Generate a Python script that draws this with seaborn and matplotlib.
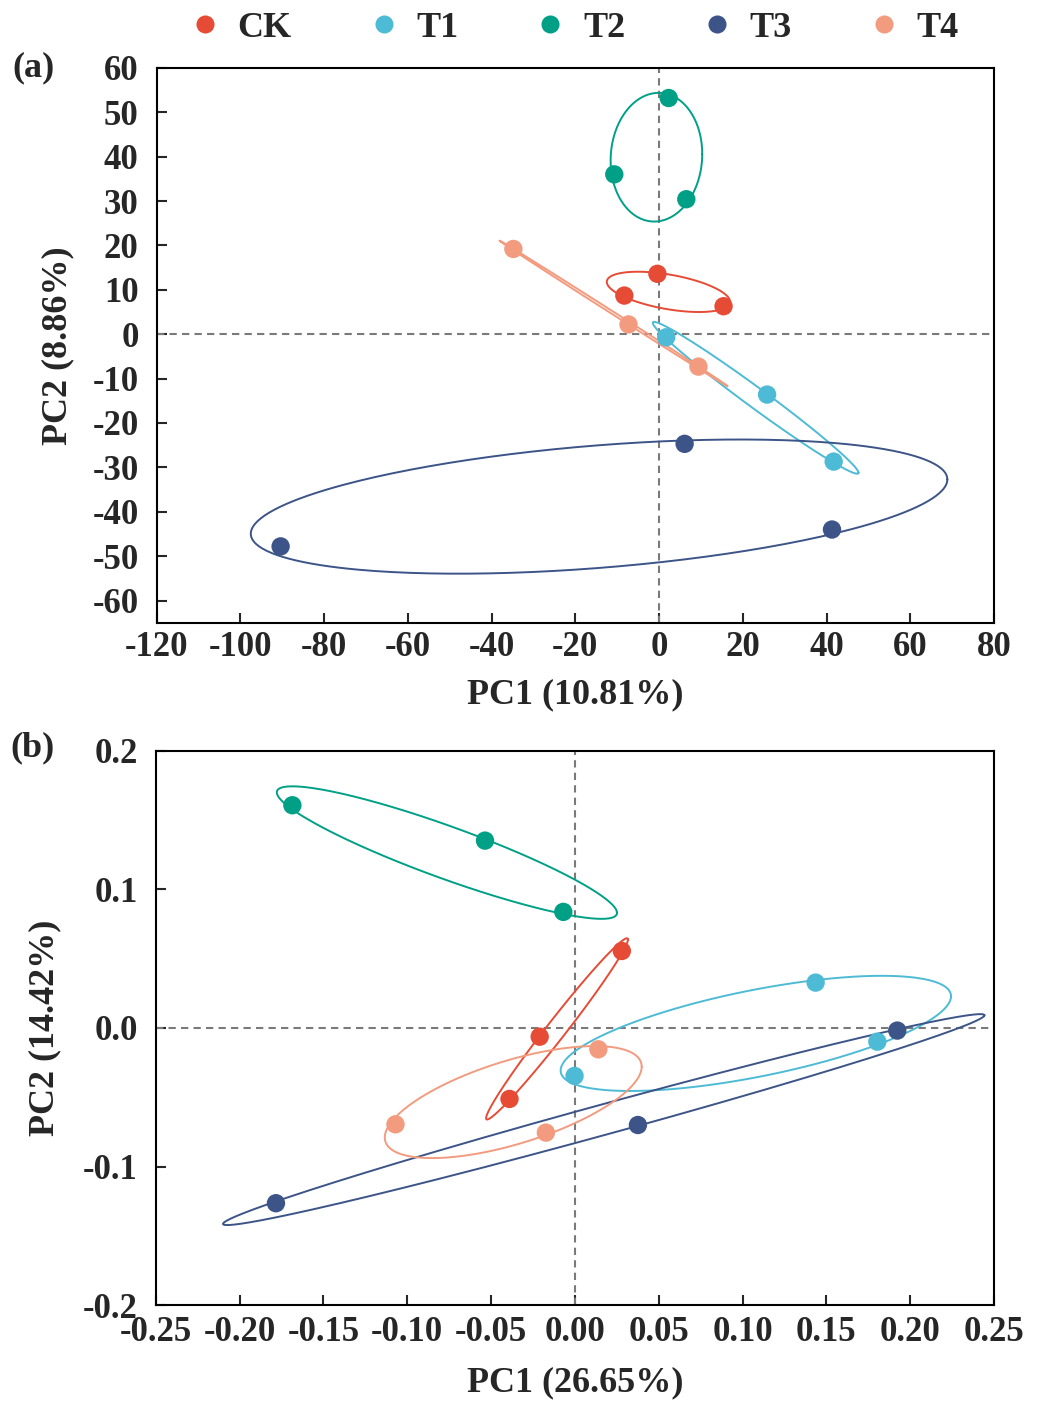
"""
PCA score plots (a) and (b) with per-group ellipses.
"""
import matplotlib
matplotlib.use("Agg")
import numpy as np
import pandas as pd
import seaborn as sns
from matplotlib import pyplot as plt
from matplotlib.lines import Line2D

GROUPS = ["CK", "T1", "T2", "T3", "T4"]
COLORS = ["#E64B35", "#4DBBD5", "#00A087", "#3C5488", "#F39B7F"]
SAMPLE_GROUP = ["CK", "CK", "CK", "T1", "T1", "T1", "T2", "T2", "T2",
                "T3", "T3", "T3", "T4", "T4", "T4"]

# panel (a)
A_PC1 = [-0.4, -8.3, 15.4, 1.7, 25.8, 41.7, 2.3, -10.7, 6.5,
         -90.4, 6.1, 41.3, -34.8, -7.3, 9.4]
A_PC2 = [13.6, 8.7, 6.3, -0.7, -13.6, -28.7, 53.2, 36.0, 30.4,
         -47.8, -24.7, -44.0, 19.2, 2.2, -7.3]
A_XTICKS = [-120, -100, -80, -60, -40, -20, 0, 20, 40, 60, 80]
A_YTICKS = [-60, -50, -40, -30, -20, -10, 0, 10, 20, 30, 40, 50, 60]
A_XLABEL = "PC1 (10.81%)"
A_YLABEL = "PC2 (8.86%)"

# panel (b)
B_PC1 = [0.028, -0.021, -0.039, -0.0002, 0.1436, 0.1804, -0.1685, -0.0536, -0.0069,
         0.1923, 0.0376, -0.1783, -0.1070, -0.0173, 0.014]
B_PC2 = [0.0555, -0.0063, -0.0512, -0.0346, 0.0327, -0.0099, 0.1606, 0.1351, 0.0837,
         -0.0019, -0.070, -0.1264, -0.0695, -0.0755, -0.0154]
B_XTICKS = [-0.25, -0.20, -0.15, -0.10, -0.05, 0.0, 0.05, 0.10, 0.15, 0.20, 0.25]
B_YTICKS = [-0.2, -0.1, 0.0, 0.1, 0.2]
B_XLABEL = "PC1 (26.65%)"
B_YLABEL = "PC2 (14.42%)"

FS = 25
ELLIPSE_R = 1.22  # Mahalanobis radius of the group ellipses

sns.set_theme(style="ticks")
plt.rcParams["font.family"] = ["Liberation Serif", "DejaVu Serif"]
plt.rcParams["font.weight"] = "bold"
plt.rcParams["axes.labelweight"] = "bold"
plt.rcParams["axes.unicode_minus"] = False
plt.rcParams["xtick.direction"] = "in"
plt.rcParams["ytick.direction"] = "in"

palette = dict(zip(GROUPS, COLORS))


def draw_pca(ax, pc1, pc2, xlim, ylim, xticks, yticks, xfmt, yfmt, xpad=6):
    df = pd.DataFrame({"pc1": pc1, "pc2": pc2, "group": SAMPLE_GROUP})
    ax.axhline(0, color="#7a7a7a", lw=1.5, dashes=(3.5, 2.5), zorder=1)
    ax.axvline(0, color="#7a7a7a", lw=1.5, dashes=(3.5, 2.5), zorder=1)
    # covariance ellipse of each group
    theta = np.linspace(0, 2 * np.pi, 300)
    circle = ELLIPSE_R * np.vstack([np.cos(theta), np.sin(theta)])
    for g in GROUPS:
        pts = df.loc[df["group"] == g, ["pc1", "pc2"]].to_numpy()
        mean = pts.mean(axis=0)
        chol = np.linalg.cholesky(np.cov(pts.T))
        ell = mean[:, None] + chol @ circle
        ax.plot(ell[0], ell[1], color=palette[g], lw=1.4, zorder=2)
    sns.scatterplot(data=df, x="pc1", y="pc2", hue="group", hue_order=GROUPS,
                    palette=palette, s=175, linewidth=0, legend=False,
                    ax=ax, zorder=3)
    ax.set_xlim(*xlim)
    ax.set_ylim(*ylim)
    ax.set_xticks(xticks, labels=[xfmt.format(v) for v in xticks])
    ax.set_yticks(yticks, labels=[yfmt.format(v) for v in yticks])
    ax.tick_params(axis="both", labelsize=FS, length=7, width=1.5)
    ax.tick_params(axis="x", pad=xpad)
    ax.tick_params(axis="y", pad=13)
    for sp in ax.spines.values():
        sp.set_linewidth(1.5)
        sp.set_color("black")


fig = plt.figure(figsize=(10.39, 14.16), dpi=100)

ax_a = fig.add_axes([0.1508, 0.5602, 0.8059, 0.3919])
draw_pca(ax_a, A_PC1, A_PC2, (-120, 80), (-65, 60), A_XTICKS, A_YTICKS,
         "{:d}", "{:d}")
ax_a.set_xlabel(A_XLABEL, fontsize=FS + 1)
ax_a.set_ylabel(A_YLABEL, fontsize=FS + 1)
ax_a.xaxis.set_label_coords(0.5, -0.10)
ax_a.yaxis.set_label_coords(-0.098, 0.5)

ax_b = fig.add_axes([0.1499, 0.0782, 0.8068, 0.3917])
draw_pca(ax_b, B_PC1, B_PC2, (-0.25, 0.25), (-0.2, 0.2), B_XTICKS, B_YTICKS,
         "{:.2f}", "{:.1f}", xpad=8)
ax_b.set_xlabel(B_XLABEL, fontsize=FS + 1)
ax_b.set_ylabel(B_YLABEL, fontsize=FS + 1)
ax_b.xaxis.set_label_coords(0.5, -0.11)
ax_b.yaxis.set_label_coords(-0.113, 0.5)

fig.text(12 / 1039, 1 - 68 / 1416, "(a)", fontsize=FS + 1, fontweight="bold",
         ha="left", va="center")
fig.text(10 / 1039, 1 - 748 / 1416, "(b)", fontsize=FS + 1, fontweight="bold",
         ha="left", va="center")

handles = [Line2D([], [], marker="o", ls="", color=c, markeredgewidth=0,
                  markersize=13) for c in COLORS]
fig.legend(handles, GROUPS, loc="center", bbox_to_anchor=(0.553, 1 - 28 / 1416),
           ncol=5, frameon=False, fontsize=FS + 1, handlelength=0.8,
           handletextpad=0.5, columnspacing=2.15)

fig.savefig("out.png", dpi=100)
